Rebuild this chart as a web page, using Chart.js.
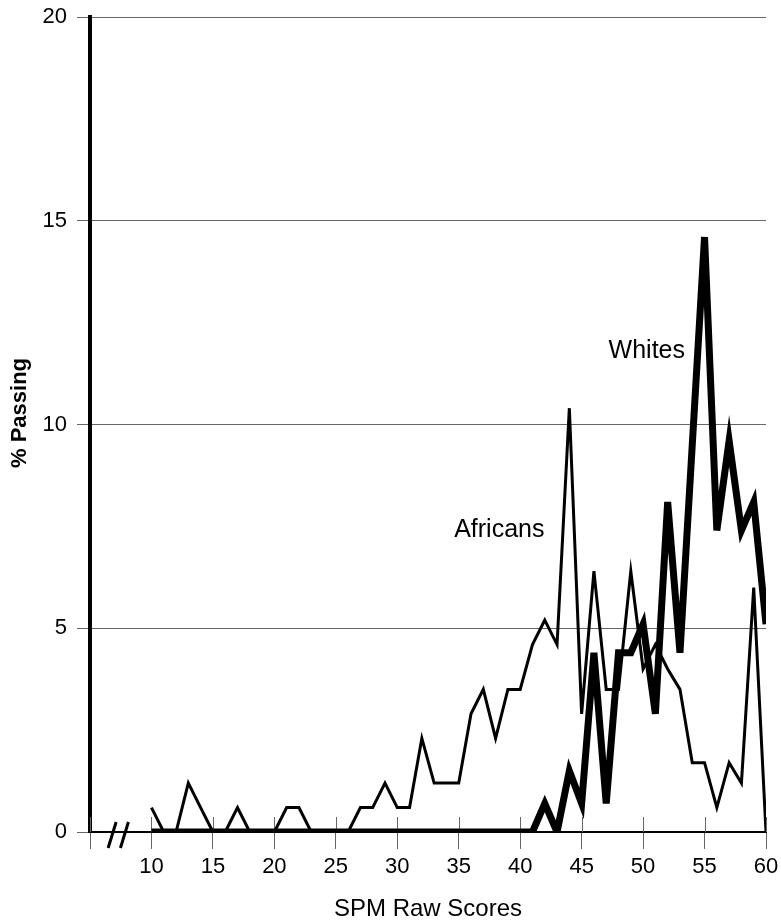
<!DOCTYPE html>
<html>
<head>
<meta charset="utf-8">
<script src="https://cdn.jsdelivr.net/npm/chart.js@4"></script>
<style>
  body { margin: 0; background: #fff; }
  #wrap { width: 781px; height: 921px; position: relative; }
</style>
</head>
<body>
<div id="wrap"><canvas id="spmChart"></canvas></div>
<script>
// SPM raw scores (x) and % passing for each group
const scores = [10, 11, 12, 13, 14, 15, 16, 17, 18, 19,
                20, 21, 22, 23, 24, 25, 26, 27, 28, 29,
                30, 31, 32, 33, 34, 35, 36, 37, 38, 39,
                40, 41, 42, 43, 44, 45, 46, 47, 48, 49,
                50, 51, 52, 53, 54, 55, 56, 57, 58, 59, 60];

const africans = [0.6, 0, 0, 1.2, 0.6, 0, 0, 0.6, 0, 0,
                  0, 0.6, 0.6, 0, 0, 0, 0, 0.6, 0.6, 1.2,
                  0.6, 0.6, 2.3, 1.2, 1.2, 1.2, 2.9, 3.5, 2.3, 3.5,
                  3.5, 4.6, 5.2, 4.6, 10.4, 2.9, 6.4, 3.5, 3.5, 6.4,
                  4.0, 4.6, 4.0, 3.5, 1.7, 1.7, 0.6, 1.7, 1.2, 6.0, 0];

const whites = [0, 0, 0, 0, 0, 0, 0, 0, 0, 0,
                0, 0, 0, 0, 0, 0, 0, 0, 0, 0,
                0, 0, 0, 0, 0, 0, 0, 0, 0, 0,
                0, 0, 0.7, 0, 1.5, 0.7, 4.4, 0.7, 4.4, 4.4,
                5.1, 2.9, 8.1, 4.4, 9.5, 14.6, 7.4, 9.6, 7.4, 8.1, 5.1];

const xTicks = [5, 10, 15, 20, 25, 30, 35, 40, 45, 50, 55, 60];
const yTicks = [0, 5, 10, 15, 20];

// where the series names sit (data coordinates)
const seriesLabels = [
    { text: 'Whites', x: 50.3, y: 11.8 },
    { text: 'Africans', x: 38.3, y: 7.4 }
];
const breakAt = [6.8, 7.8]; // the "//" axis break

const toPoints = (vals) => scores.map((s, i) => ({ x: s, y: vals[i] }));

Chart.defaults.font.family = "'Liberation Sans', Arial, sans-serif";
Chart.defaults.color = '#000';

// extras: inner tick marks, axis break, series names, y title
const extrasPlugin = {
    id: 'extras',
    beforeDatasetsDraw(chart) {
        const { ctx, scales: { x, y } } = chart;
        const y0 = y.getPixelForValue(0);
        ctx.save();
        ctx.strokeStyle = '#666';
        ctx.lineWidth = 1;
        xTicks.forEach(v => {
            const px = Math.round(x.getPixelForValue(v)) + 0.5;
            ctx.beginPath();
            ctx.moveTo(px, y0);
            ctx.lineTo(px, y0 - 15);
            ctx.stroke();
        });
        ctx.restore();
    },
    afterDatasetsDraw(chart) {
        const { ctx, scales: { x, y } } = chart;
        const y0 = y.getPixelForValue(0);
        ctx.save();
        // axis break
        ctx.strokeStyle = '#000';
        ctx.lineWidth = 3;
        breakAt.forEach(v => {
            const px = x.getPixelForValue(v);
            ctx.beginPath();
            ctx.moveTo(px - 4, y0 + 16);
            ctx.lineTo(px + 4, y0 - 10);
            ctx.stroke();
        });
        // series names
        ctx.fillStyle = '#000';
        ctx.font = "25px 'Liberation Sans', Arial, sans-serif";
        ctx.textAlign = 'center';
        ctx.textBaseline = 'middle';
        seriesLabels.forEach(l => {
            ctx.fillText(l.text, x.getPixelForValue(l.x), y.getPixelForValue(l.y));
        });
        // y axis title
        ctx.font = "bold 22px 'Liberation Sans', Arial, sans-serif";
        ctx.translate(20, 413);
        ctx.rotate(-Math.PI / 2);
        ctx.fillText('% Passing', 0, 0);
        ctx.restore();
    }
};

new Chart(document.getElementById('spmChart'), {
    type: 'line',
    data: {
        datasets: [
            {
                label: 'Africans',
                data: toPoints(africans),
                borderColor: '#000',
                borderWidth: 3,
                pointRadius: 0,
                tension: 0
            },
            {
                label: 'Whites',
                data: toPoints(whites),
                borderColor: '#000',
                borderWidth: 7,
                pointRadius: 0,
                tension: 0
            }
        ]
    },
    options: {
        responsive: true,
        maintainAspectRatio: false,
        animation: false,
        layout: { padding: { top: 17, right: 15, bottom: 0, left: 0 } },
        plugins: {
            legend: { display: false },
            tooltip: { enabled: false }
        },
        scales: {
            x: {
                type: 'linear',
                min: 5,
                max: 60,
                afterBuildTicks: (s) => { s.ticks = xTicks.map(v => ({ value: v })); },
                afterFit: (s) => { s.height = 89; s.paddingLeft = 0; s.paddingRight = 0; },
                ticks: {
                    font: { size: 22, lineHeight: 1 },
                    padding: 7,
                    maxRotation: 0,
                    callback: (v) => v === 5 ? '' : v
                },
                grid: { drawOnChartArea: false, color: '#666', lineWidth: 1, tickLength: 17 },
                border: { color: '#000', width: 2 },
                title: {
                    display: true,
                    text: 'SPM Raw Scores',
                    font: { size: 24, lineHeight: 1 },
                    padding: { top: 0, bottom: 0 }
                }
            },
            y: {
                min: 0,
                max: 20,
                afterBuildTicks: (s) => { s.ticks = yTicks.map(v => ({ value: v })); },
                afterFit: (s) => { s.width = 90; s.paddingTop = 0; s.paddingBottom = 0; },
                ticks: { font: { size: 22 }, padding: 10 },
                grid: { color: '#666', lineWidth: 1, tickLength: 13 },
                border: { color: '#000', width: 4 }
            }
        }
    },
    plugins: [extrasPlugin]
});
</script>
</body>
</html>
